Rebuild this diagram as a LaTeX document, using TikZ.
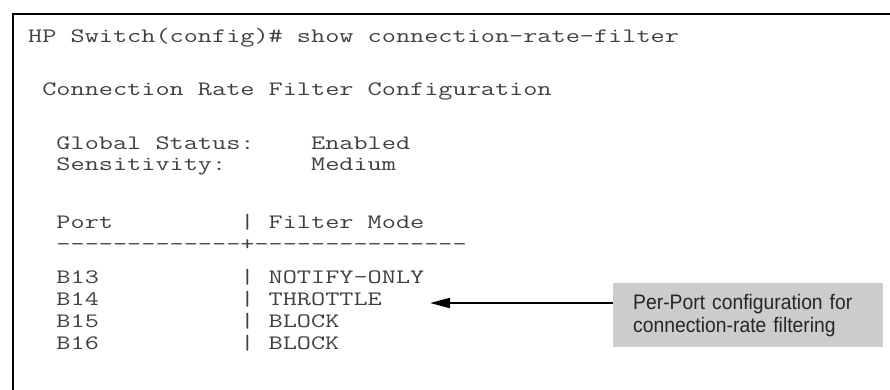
\documentclass[tikz,border=0pt]{standalone}
\usepackage{fontspec}
% wide typewriter face: 0.525em cell stretched to a 14.4pt column
\setmonofont[FakeStretch=1.34]{Latin Modern Mono}
\newfontfamily\notefont[FakeStretch=0.92]{Liberation Sans}
\usetikzlibrary{arrows.meta}

\begin{document}
\begin{tikzpicture}[x=1pt,y=-1pt,
  term/.style={anchor=base west, inner sep=0pt,
    font=\ttfamily\fontsize{20.5}{20.5}\selectfont, text=black!75},
  note/.style={anchor=north west, fill=gray!40, inner xsep=20pt, inner ysep=0pt,
    text width=230pt, minimum height=64pt, align=left,
    font=\notefont\fontsize{21}{23}\selectfont, text=black!85},
  callarrow/.style={line width=2pt, -{Triangle[length=20pt,width=10pt]}},
  frame/.style={line width=2.5pt, black}]

\useasboundingbox (0,0) rectangle (890,389);

% console frame (top and left edges)
\draw[frame] (13,392) -- (13,14) -- (893,14);

% console output
\node[term] (cmd)    at (28,42)  {HP Switch(config)\# show connection-rate-filter};
\node[term] (title)  at (28,95)  {~Connection Rate Filter Configuration};
\node[term] (status) at (28,149) {~~Global Status:~~~~Enabled};
\node[term] (sens)   at (28,170) {~~Sensitivity:~~~~~~Medium};
\node[term] (head)   at (28,228) {~~Port~~~~~~~~~|~Filter Mode};
\node[term] (rule)   at (28,250) {~~-------------+---------------};
\node[term] (b13)    at (28,283) {~~B13~~~~~~~~~~|~NOTIFY-ONLY};
\node[term] (b14)    at (28,305) {~~B14~~~~~~~~~~|~THROTTLE};
\node[term] (b15)    at (28,327) {~~B15~~~~~~~~~~|~BLOCK};
\node[term] (b16)    at (28,349) {~~B16~~~~~~~~~~|~BLOCK};

% callout
\node[note] (note) at (613,283) {Per-Port configuration for\\connection-rate filtering};
\coordinate (tip) at (430,303);
\draw[callarrow] (note.west |- tip) -- (tip);
\end{tikzpicture}
\end{document}
